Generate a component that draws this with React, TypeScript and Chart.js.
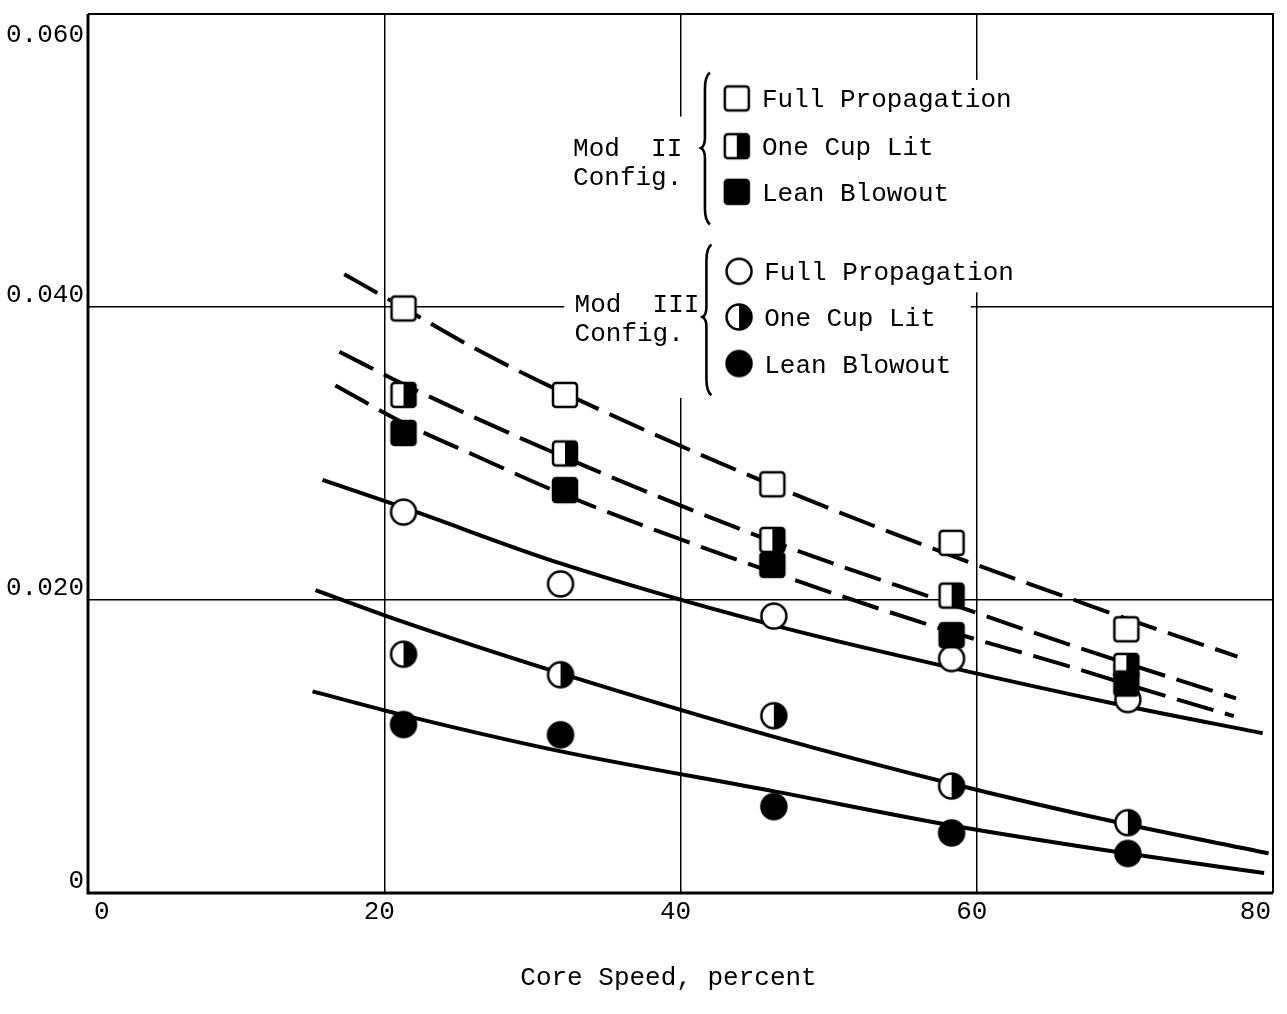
import React, { useEffect, useRef } from "react";
import { Chart, registerables } from "chart.js";

Chart.register(...registerables);

// ---- axes ----
const xTickValues = [0, 20, 40, 60, 80];
const xTickLabels = ["0", "20", "40", "60", "80"];
const yTickValues = [0, 0.02, 0.04, 0.06];
const yTickLabels = ["0", "0.020", "0.040", "0.060"];
const xAxisTitle = "Core Speed, percent";

// ---- measured points ----
const squareSpeeds = [21.3, 32.2, 46.2, 58.3, 70.1];
const circleSpeeds = [21.3, 31.9, 46.3, 58.3, 70.2];
const modIIFull = [0.0399, 0.034, 0.0279, 0.0239, 0.018];
const modIIOneCup = [0.034, 0.03, 0.0241, 0.0203, 0.0155];
const modIILean = [0.0314, 0.0275, 0.0224, 0.0176, 0.0143];
const modIIIFull = [0.026, 0.0211, 0.0189, 0.016, 0.0132];
const modIIIOneCup = [0.0163, 0.0149, 0.0121, 0.0073, 0.0048];
const modIIILean = [0.0115, 0.0108, 0.0059, 0.0041, 0.0027];

// ---- faired curves ----
const fitIIFullX = [17.3, 21.2, 25.9, 32.2, 46.15, 58.25, 66.05, 70.15, 77.6];
const fitIIFullY = [0.04224, 0.04, 0.03729, 0.0341, 0.02786, 0.02305, 0.0202, 0.01871, 0.01614];
const fitIIOneCupX = [16.97, 21.48, 32.3, 46.2, 58.25, 66.05, 70.15, 77.5];
const fitIIOneCupY = [0.03695, 0.03464, 0.02969, 0.024, 0.01973, 0.01702, 0.01566, 0.01329];
const fitIILeanX = [16.7, 21.34, 26.2, 32.3, 46.2, 58.25, 65.85, 70.15, 77.35];
const fitIILeanY = [0.03464, 0.03207, 0.02983, 0.02712, 0.0219, 0.01783, 0.01559, 0.01424, 0.01207];
const fitIIIFullX = [15.83, 21.34, 31.9, 46.2, 58.18, 69.4, 79.3];
const fitIIIFullY = [0.0282, 0.0263, 0.0225, 0.0183, 0.0154, 0.0129, 0.0109];
const fitIIIOneCupX = [15.36, 21.28, 31.97, 46.15, 58.32, 69.55, 79.7];
const fitIIIOneCupY = [0.02068, 0.01851, 0.01498, 0.01071, 0.00746, 0.00481, 0.00271];
const fitIIILeanX = [15.16, 21.28, 31.76, 46.42, 58.32, 69.6, 79.4];
const fitIIILeanY = [0.01376, 0.01214, 0.0097, 0.00692, 0.00461, 0.00278, 0.00136];

// ---- legend text ----
const groupLabels = [["Mod  II", "Config."], ["Mod  III", "Config."]];
const legendItems = ["Full Propagation", "One Cup Lit", "Lean Blowout"];

const FONT = '26px "Liberation Mono", "DejaVu Sans Mono", monospace';

type Shape = "square" | "circle";
type Fill = "open" | "half" | "full";

function makeMarker(shape: Shape, fill: Fill): HTMLCanvasElement {
  const size = 32;
  const c = document.createElement("canvas");
  c.width = size;
  c.height = size;
  const ctx = c.getContext("2d")!;
  const m = size / 2;
  const path = () => {
    ctx.beginPath();
    if (shape === "square") {
      const h = 12;
      (ctx as any).roundRect(m - h, m - h, 2 * h, 2 * h, 3);
    } else {
      ctx.arc(m, m, 12.5, 0, Math.PI * 2);
    }
    ctx.closePath();
  };
  path();
  ctx.fillStyle = fill === "full" ? "#000" : "#fff";
  ctx.fill();
  if (fill === "half") {
    ctx.save();
    ctx.beginPath();
    ctx.rect(m, 0, size, size);
    ctx.clip();
    path();
    ctx.fillStyle = "#000";
    ctx.fill();
    ctx.restore();
  }
  path();
  ctx.lineWidth = 2.5;
  ctx.strokeStyle = "#000";
  ctx.stroke();
  return c;
}

export default function App() {
  const ref = useRef<HTMLCanvasElement | null>(null);

  useEffect(() => {
    if (!ref.current) return;
    const mk = {
      sqOpen: makeMarker("square", "open"),
      sqHalf: makeMarker("square", "half"),
      sqFull: makeMarker("square", "full"),
      ciOpen: makeMarker("circle", "open"),
      ciHalf: makeMarker("circle", "half"),
      ciFull: makeMarker("circle", "full"),
    };

    const pts = (xs: number[], ys: number[]) => xs.map((x, i) => ({ x, y: ys[i] }));

    const curve = (xs: number[], ys: number[], dashed: boolean) => ({
      data: pts(xs, ys),
      borderColor: "#000",
      borderWidth: 4,
      borderDash: dashed ? [38, 12] : [],
      borderCapStyle: "butt",
      pointRadius: 0,
      pointHoverRadius: 0,
      showLine: true,
      fill: false,
      cubicInterpolationMode: "monotone",
      order: 10,
    });

    const marks = (xs: number[], ys: number[], style: HTMLCanvasElement, order: number) => ({
      data: pts(xs, ys),
      showLine: false,
      pointStyle: style,
      pointRadius: 13,
      pointHoverRadius: 13,
      order,
    });

    const plugin = {
      id: "paper",
      beforeDatasetsDraw(chart: any) {
        const { ctx, chartArea: a, scales } = chart;
        const xs = scales.x, ys = scales.y;
        // gaps in the grid around the legend
        const masks = [
          [32.15, 59.6, 0.0338, 0.053],
          [59.6, 60.7, 0.041, 0.0555],
        ];
        ctx.save();
        ctx.fillStyle = "#fff";
        masks.forEach(([x0, x1, y0, y1]) => {
          const px0 = xs.getPixelForValue(x0), px1 = xs.getPixelForValue(x1);
          const py0 = ys.getPixelForValue(y1), py1 = ys.getPixelForValue(y0);
          ctx.fillRect(px0, py0, px1 - px0, py1 - py0);
        });
        // frame
        ctx.strokeStyle = "#000";
        ctx.lineWidth = 2;
        ctx.beginPath();
        ctx.moveTo(a.left, a.top);
        ctx.lineTo(a.right, a.top);
        ctx.lineTo(a.right, a.bottom);
        ctx.stroke();
        ctx.lineWidth = 3;
        ctx.beginPath();
        ctx.moveTo(a.left, a.top);
        ctx.lineTo(a.left, a.bottom);
        ctx.lineTo(a.right, a.bottom);
        ctx.stroke();
        ctx.restore();
      },
      afterDraw(chart: any) {
        const { ctx, chartArea: a, scales } = chart;
        const xs = scales.x, ys = scales.y;
        ctx.save();
        ctx.fillStyle = "#000";
        ctx.font = FONT;
        // y tick labels
        ctx.textAlign = "right";
        ctx.textBaseline = "alphabetic";
        yTickValues.forEach((v, i) => {
          const py = ys.getPixelForValue(v);
          ctx.fillText(yTickLabels[i], a.left - 4, Math.max(py - 5, a.top + 28));
        });
        // x tick labels
        xTickValues.forEach((v, i) => {
          const px = xs.getPixelForValue(v);
          if (i === 0) {
            ctx.textAlign = "left";
            ctx.fillText(xTickLabels[i], px + 6, a.bottom + 26);
          } else if (i === xTickValues.length - 1) {
            ctx.textAlign = "right";
            ctx.fillText(xTickLabels[i], px - 2, a.bottom + 26);
          } else {
            ctx.textAlign = "center";
            ctx.fillText(xTickLabels[i], px - 5, a.bottom + 26);
          }
        });
        // axis title
        ctx.textAlign = "center";
        ctx.fillText(xAxisTitle, (a.left + a.right) / 2 - 12, a.bottom + 92);

        // legend
        const groups = [
          {
            labelX: 32.75,
            labelY: [0.0503, 0.04834],
            brace: [0.056, 0.04563, 0.05085],
            rows: [0.05424, 0.05098, 0.04786],
            markers: [mk.sqOpen, mk.sqHalf, mk.sqFull],
            markerX: 43.8,
            textX: 45.5,
          },
          {
            labelX: 32.85,
            labelY: [0.03966, 0.0377],
            brace: [0.04427, 0.03397, 0.03932],
            rows: [0.04244, 0.03932, 0.03614],
            markers: [mk.ciOpen, mk.ciHalf, mk.ciFull],
            markerX: 43.95,
            textX: 45.65,
          },
        ];
        groups.forEach((g, gi) => {
          ctx.textAlign = "left";
          const lx = xs.getPixelForValue(g.labelX);
          ctx.fillText(groupLabels[gi][0], lx, ys.getPixelForValue(g.labelY[0]));
          ctx.fillText(groupLabels[gi][1], lx, ys.getPixelForValue(g.labelY[1]));
          // brace
          const bx = xs.getPixelForValue(41.65 + gi * 0.1);
          const t = ys.getPixelForValue(g.brace[0]);
          const b = ys.getPixelForValue(g.brace[1]);
          const mid = ys.getPixelForValue(g.brace[2]);
          ctx.beginPath();
          ctx.lineWidth = 2.6;
          ctx.strokeStyle = "#000";
          ctx.moveTo(bx + 5, t);
          ctx.quadraticCurveTo(bx, t + 4, bx, t + 16);
          ctx.lineTo(bx, mid - 10);
          ctx.quadraticCurveTo(bx, mid - 2, bx - 4, mid);
          ctx.quadraticCurveTo(bx, mid + 2, bx, mid + 10);
          ctx.lineTo(bx, b - 16);
          ctx.quadraticCurveTo(bx, b - 4, bx + 5, b);
          ctx.stroke();
          g.rows.forEach((ry, ri) => {
            const py = ys.getPixelForValue(ry);
            const mx = xs.getPixelForValue(g.markerX);
            const im = g.markers[ri];
            ctx.drawImage(im, mx - im.width / 2, py - im.height / 2);
            ctx.fillText(legendItems[ri], xs.getPixelForValue(g.textX), py + 9);
          });
        });
        ctx.restore();
      },
    };

    const chart = new Chart(ref.current, {
      type: "line",
      data: {
        datasets: [
          curve(fitIIFullX, fitIIFullY, true),
          curve(fitIIOneCupX, fitIIOneCupY, true),
          curve(fitIILeanX, fitIILeanY, true),
          curve(fitIIIFullX, fitIIIFullY, false),
          curve(fitIIIOneCupX, fitIIIOneCupY, false),
          curve(fitIIILeanX, fitIIILeanY, false),
          marks(squareSpeeds, modIILean, mk.sqFull, 0),
          marks(squareSpeeds, modIIOneCup, mk.sqHalf, 1),
          marks(squareSpeeds, modIIFull, mk.sqOpen, 2),
          marks(circleSpeeds, modIIILean, mk.ciFull, 3),
          marks(circleSpeeds, modIIIOneCup, mk.ciHalf, 4),
          marks(circleSpeeds, modIIIFull, mk.ciOpen, 5),
        ] as any,
      },
      options: {
        responsive: false,
        animation: false,
        events: [],
        layout: { padding: { left: 88, top: 8, right: 13, bottom: 121 } },
        plugins: { legend: { display: false }, tooltip: { enabled: false } },
        scales: {
          x: {
            type: "linear",
            min: 0,
            max: 80,
            ticks: { display: false, stepSize: 20 },
            grid: { color: "#000", lineWidth: 1.5, drawTicks: false },
            border: { display: false },
          },
          y: {
            type: "linear",
            min: 0,
            max: 0.06,
            ticks: { display: false, stepSize: 0.02 },
            grid: { color: "#000", lineWidth: 1.5, drawTicks: false },
            border: { display: false },
          },
        },
      } as any,
      plugins: [plugin],
    });
    return () => chart.destroy();
  }, []);

  return (
    <div style={{ position: "absolute", left: 0, top: 0, width: 1287, height: 1014, background: "#fff" }}>
      <canvas ref={ref} width={1287} height={1014} style={{ display: "block" }} />
    </div>
  );
}
